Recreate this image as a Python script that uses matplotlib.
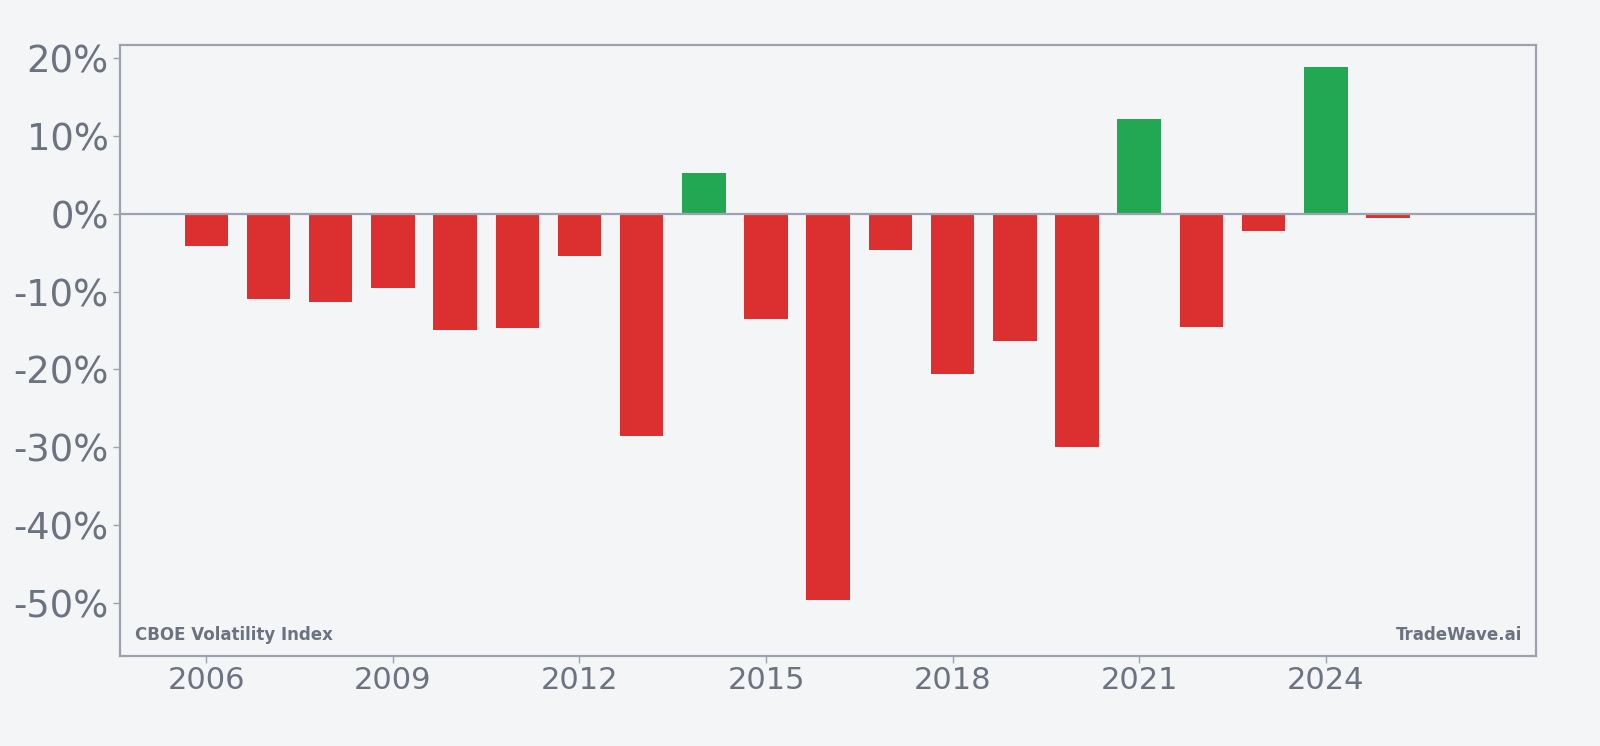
import numpy as np
import matplotlib.pyplot as plt
from matplotlib.ticker import FuncFormatter

years = list(range(2006, 2026))
returns = [-4.1, -11.0, -11.4, -9.5, -15.0, -14.7, -5.5, -28.5, 5.2, -13.5,
           -49.6, -4.7, -20.6, -16.4, -29.9, 12.2, -14.5, -2.2, 18.8, -0.5]
xticks = [2006, 2009, 2012, 2015, 2018, 2021, 2024]

bg = '#f4f5f7'
grey = '#6b7280'
edge = '#9ca3af'
colors = ['#22a852' if v >= 0 else '#dc3030' for v in returns]

fig = plt.figure(figsize=(16, 7.46), dpi=100, facecolor=bg)
ax = fig.add_axes([0.0753, 0.1206, 0.8847, 0.8191], facecolor=bg)

ax.bar(years, returns, width=0.7, color=colors, zorder=2)
ax.axhline(0, color=edge, lw=1.6, zorder=3)

ax.set_xlim(2004.62, 2027.38)
ax.set_ylim(-56.8, 21.65)
ax.set_xticks(xticks)
ax.set_yticks(np.arange(-50, 21, 10))
ax.yaxis.set_major_formatter(FuncFormatter(lambda v, p: f'{v:.0f}%'))

ax.tick_params(axis='y', labelsize=26.6, colors=edge, labelcolor=grey, length=5, width=1)
ax.tick_params(axis='x', labelsize=22, colors=edge, labelcolor=grey, length=5, width=1, pad=2)
for s in ax.spines.values():
    s.set_color(edge)
    s.set_linewidth(1.6)

ax.text(0.01, 0.02, 'CBOE Volatility Index', transform=ax.transAxes,
        fontsize=12, fontweight='bold', color=grey, ha='left', va='bottom')
ax.text(0.99, 0.02, 'TradeWave.ai', transform=ax.transAxes,
        fontsize=12, fontweight='bold', color=grey, ha='right', va='bottom')

fig.savefig('out.png', dpi=100, facecolor=bg)
